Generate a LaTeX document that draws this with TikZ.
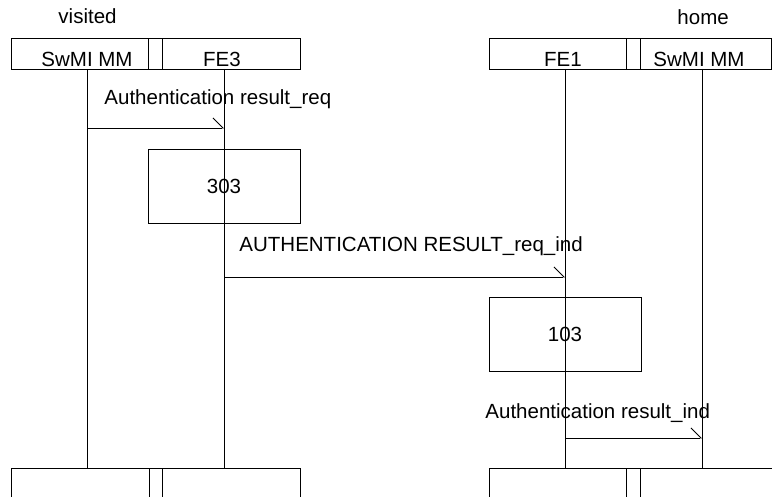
\documentclass[tikz,border=0pt]{standalone}
\usepackage{fontspec}
\setmainfont{Liberation Sans}
\usepackage{tikz}
\usetikzlibrary{calc, arrows.meta}

\begin{document}
\begin{tikzpicture}[x=1pt, y=-1pt, every node/.style={inner sep=0pt, font=\fontsize{20.5}{24}\selectfont}, every path/.style={line width=0.9pt}, hdr/.style={draw, minimum height=31pt}, act/.style={draw, minimum width=152pt, minimum height=74pt}, msg/.style={-{Straight Barb[harpoon, length=10pt, width=20pt]}}]
			\useasboundingbox (0,0) rectangle (772,497);
			\node[anchor=base west] (visited) at (58,24) {visited};
			\node[anchor=base west] (home) at (677,25) {home};
			\node[hdr, minimum width=289pt] (hdrV) at (155.5,53.5) {};
			\node[hdr, minimum width=14pt] (sepV) at (155,53.5) {};
			\node[hdr, minimum width=282pt] (hdrH) at (630,53.5) {};
			\node[hdr, minimum width=14pt] (sepH) at (633,53.5) {};
			\node[anchor=base] (mmV) at (87,67) {SwMI MM};
			\node[anchor=base] (fe3) at (222,67) {FE3};
			\node[anchor=base] (fe1) at (563,67) {FE1};
			\node[anchor=base] (mmH) at (699,67) {SwMI MM};
			\coordinate (mmVt) at (87,69);
			\coordinate (mmVb) at (87,468);
			\coordinate (fe3t) at (224,69);
			\coordinate (fe3b) at (224,468);
			\coordinate (fe1t) at (565,69);
			\coordinate (fe1b) at (565,468);
			\coordinate (mmHt) at (702,69);
			\coordinate (mmHb) at (702,468);
			\draw (mmVt)--(mmVb);
			\draw (fe3t)--(fe3b);
			\draw (fe1t)--(fe1b);
			\draw (mmHt)--(mmHb);
			\draw (11,497) |- (300,468) -- (300,497);
			\draw (149,468)--(149,497);
			\draw (162,468)--(162,497);
			\draw (489,497) |- (772,468);
			\draw (626,468)--(626,497);
			\draw (640,468)--(640,497);
			\coordinate (m1s) at (87,128);
			\coordinate (m1e) at (224,128);
			\draw[msg] (m1s)--(m1e);
			\node[anchor=base west] (m1) at (104,105) {Authentication result\_req};
			\node[act] (p303) at (224,186) {303};
			\coordinate (m2s) at (224,277);
			\coordinate (m2e) at (565,277);
			\draw[msg] (m2s)--(m2e);
			\node[anchor=base west] (m2) at (239,252) {AUTHENTICATION RESULT\_req\_ind};
			\node[act] (p103) at (565,334) {103};
			\coordinate (m3s) at (565,438);
			\coordinate (m3e) at (702,438);
			\draw[msg] (m3s)--(m3e);
			\node[anchor=base west] (m3) at (485,418) {Authentication result\_ind};
		\end{tikzpicture}
\end{document}
